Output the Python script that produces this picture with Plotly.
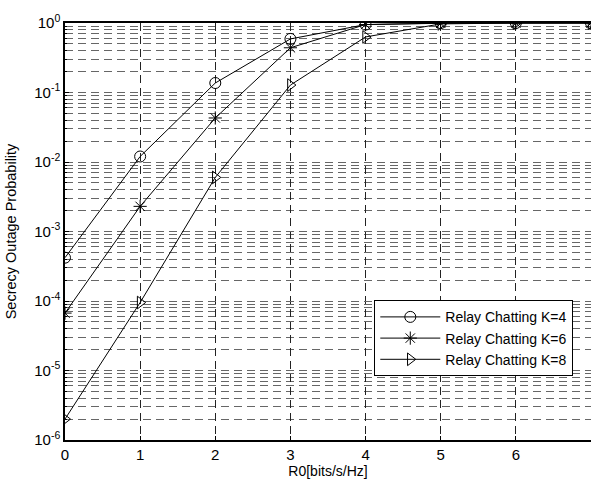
import plotly.graph_objects as go

rate = [0, 1, 2, 3, 4, 5, 6, 7]
k4 = [4.2e-4, 1.2e-2, 0.137, 0.59, 0.95, 0.995, 1.0, 1.0]
k6 = [6.7e-5, 2.3e-3, 0.043, 0.44, 0.95, 0.99, 1.0, 1.0]
k8 = [2.0e-6, 9.5e-5, 6.0e-3, 0.128, 0.63, 0.97, 1.0, 1.0]
names = ["Relay Chatting K=4", "Relay Chatting K=6", "Relay Chatting K=8"]
symbols = ["circle-open", "asterisk-open", "triangle-right-open"]
ytick_vals = [1e-6, 1e-5, 1e-4, 1e-3, 1e-2, 1e-1, 1e0]
ytick_text = ["10<sup>-6</sup>", "10<sup>-5</sup>", "10<sup>-4</sup>", "10<sup>-3</sup>",
              "10<sup>-2</sup>", "10<sup>-1</sup>", "10<sup>0</sup>"]

fig = go.Figure()
for ys, nm, sym in zip([k4, k6, k8], names, symbols):
    fig.add_trace(go.Scatter(
        x=rate, y=ys, name=nm, mode="lines+markers",
        line=dict(color="black", width=1),
        marker=dict(symbol=sym, size=11, color="black", line=dict(color="black", width=1)),
    ))

font = dict(family="Liberation Sans, Arial, sans-serif", size=13, color="black")
fig.update_layout(
    width=591, height=484,
    margin=dict(l=65, r=0, t=23, b=44, autoexpand=False),
    paper_bgcolor="white", plot_bgcolor="white",
    font=font,
    showlegend=True,
    legend=dict(x=0.588, y=0.335, xanchor="left", yanchor="top",
                bgcolor="white", bordercolor="black", borderwidth=1,
                font=dict(family="Liberation Sans, Arial, sans-serif", size=14, color="black"),
                tracegroupgap=0, itemwidth=60),
)
fig.update_xaxes(
    range=[0, 7], dtick=1, ticks="inside", ticklen=4, tickcolor="black",
    showline=True, linecolor="black", linewidth=1.5, mirror=True,
    showgrid=True, gridcolor="#222222", griddash="8px,5px", gridwidth=1,
    zeroline=False, automargin=False,
    title=dict(text="R0[bits/s/Hz]", standoff=3, font=dict(size=14)),
    tickfont=dict(size=15),
)
fig.update_yaxes(
    type="log", range=[-6, 0], tickvals=ytick_vals, ticktext=ytick_text,
    ticks="inside", ticklen=4, tickcolor="black",
    showline=True, linecolor="black", linewidth=1.5, mirror=True,
    showgrid=True, gridcolor="#666666", griddash="8px,5px", gridwidth=1,
    minor=dict(dtick="D1", showgrid=True, gridcolor="#666666", griddash="8px,5px", gridwidth=1,
               ticks="inside", ticklen=2, tickcolor="black"),
    zeroline=False, automargin=False,
    title=dict(text="Secrecy Outage Probability", standoff=14, font=dict(size=14.5)),
    tickfont=dict(size=15),
)

fig.write_html("out.html", config={"displayModeBar": False},
               post_script="document.body.style.margin='0';")
